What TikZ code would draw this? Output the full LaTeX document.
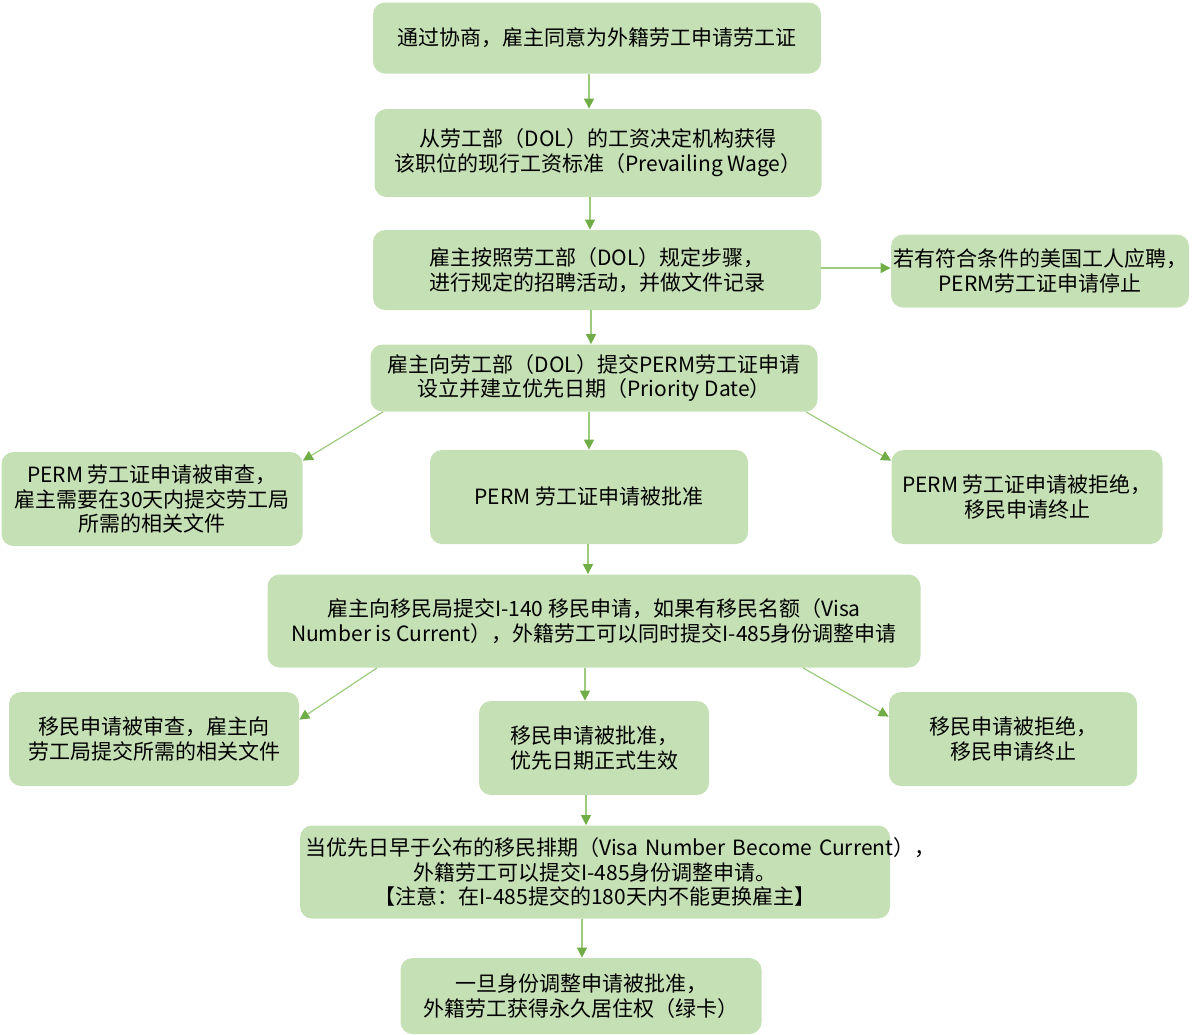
\documentclass[tikz,border=0pt]{standalone}
\usepackage{fontspec}
\setmainfont{Noto Sans CJK SC}
\usetikzlibrary{arrows.meta}
\definecolor{boxgreen}{HTML}{C5E0B4}
\definecolor{tipgreen}{HTML}{70AD47}
\definecolor{linegreen}{HTML}{9CCB7D}
\tikzset{
  stage/.style={fill=boxgreen, rounded corners=6pt, align=center, inner sep=1pt,
    font=\fontsize{10.5}{12.4}\selectfont},
  flow/.style={draw=linegreen, line width=0.6pt,
    -{Triangle[length=5pt,width=5pt,color=tipgreen]}}
}
\begin{document}
\begin{tikzpicture}[x=0.5pt, y=-0.5pt]
\useasboundingbox (0,0) rectangle (1200,1034);
\node[stage, minimum width=224pt, minimum height=35.5pt] (P_0_0) at (597,38) {通过协商，雇主同意为外籍劳工申请劳工证};
\node[stage, minimum width=223.5pt, minimum height=44pt] (P_1_0) at (598,153) {从劳工部（DOL）的工资决定机构获得\\该职位的现行工资标准（Prevailing Wage）};
\draw[flow] ([xshift=-4pt]P_0_0.south) -- ([xshift=-4.5pt]P_1_0.north);
\node[stage, minimum width=224pt, minimum height=40pt] (P_2_0) at (597,270) {雇主按照劳工部（DOL）规定步骤，\\进行规定的招聘活动，并做文件记录};
\draw[flow] ([xshift=-4pt]P_1_0.south) -- ([xshift=-3.5pt]P_2_0.north);
\node[stage, minimum width=148pt, minimum height=36.5pt] (P_2_1) at (1040,271) {若有符合条件的美国工人应聘，\\PERM劳工证申请停止};
\draw[flow] ([yshift=1pt]P_2_0.east) -- ([yshift=1.5pt]P_2_1.west);
\node[stage, minimum width=223.5pt, minimum height=33.5pt] (P_3_0) at (594,378) {雇主向劳工部（DOL）提交PERM劳工证申请\\设立并建立优先日期（Priority Date）};
\draw[flow] ([xshift=-3pt]P_2_0.south) -- ([xshift=-1.5pt]P_3_0.north);
\node[stage, minimum width=150.5pt, minimum height=47pt] (P_4_0) at (152,499) {PERM 劳工证申请被审查，\\雇主需要在30天内提交劳工局\\所需的相关文件};
\draw[flow] ([xshift=-105.5pt]P_3_0.south) -- ([yshift=-4.5pt]P_4_0.north east);
\node[stage, minimum width=159pt, minimum height=47pt] (P_4_1) at (589,497) {PERM 劳工证申请被批准};
\draw[flow] ([xshift=-2.5pt]P_3_0.south) -- (P_4_1.north);
\node[stage, minimum width=135.5pt, minimum height=47pt] (P_4_2) at (1027,497) {PERM 劳工证申请被拒绝，\\移民申请终止};
\draw[flow] ([xshift=106pt]P_3_0.south) -- ([yshift=-5.5pt]P_4_2.north west);
\node[stage, minimum width=326.5pt, minimum height=46.5pt] (P_5_0) at (594,621) {雇主向移民局提交I-140 移民申请，如果有移民名额（Visa\\Number is Current），外籍劳工可以同时提交I-485身份调整申请};
\draw[flow] ([xshift=-0.5pt]P_4_1.south) -- ([xshift=-3pt]P_5_0.north);
\node[stage, minimum width=145pt, minimum height=47pt] (P_6_0) at (154,739) {移民申请被审查，雇主向\\劳工局提交所需的相关文件};
\draw[flow] ([xshift=-108.5pt]P_5_0.south) -- ([yshift=-14pt]P_6_0.north east);
\node[stage, minimum width=115pt, minimum height=47pt] (P_6_1) at (594,748) {移民申请被批准，\\优先日期正式生效};
\draw[flow] ([xshift=-4.5pt]P_5_0.south) -- ([xshift=-4.5pt]P_6_1.north);
\node[stage, minimum width=124pt, minimum height=47pt] (P_6_2) at (1013,739) {移民申请被拒绝，\\移民申请终止};
\draw[flow] ([xshift=104.5pt]P_5_0.south) -- ([yshift=-12.5pt]P_6_2.north west);
\node[stage, inner sep=2.5pt, text width=290pt, minimum height=46.5pt] (P_7_0) at (595,872) {\mbox{当优先日早于公布的移民排期（Visa Number Become Current），}\\外籍劳工可以提交I-485身份调整申请。\\【注意：在I-485提交的180天内不能更换雇主】};
\draw[flow] ([xshift=-4pt]P_6_1.south) -- ([xshift=-4.5pt]P_7_0.north);
\node[stage, minimum width=180.5pt, minimum height=38pt] (P_8_0) at (581,996) {一旦身份调整申请被批准，\\外籍劳工获得永久居住权（绿卡）};
\draw[flow] ([xshift=-6.5pt]P_7_0.south) -- ([xshift=0.5pt]P_8_0.north);
\end{tikzpicture}
\end{document}
